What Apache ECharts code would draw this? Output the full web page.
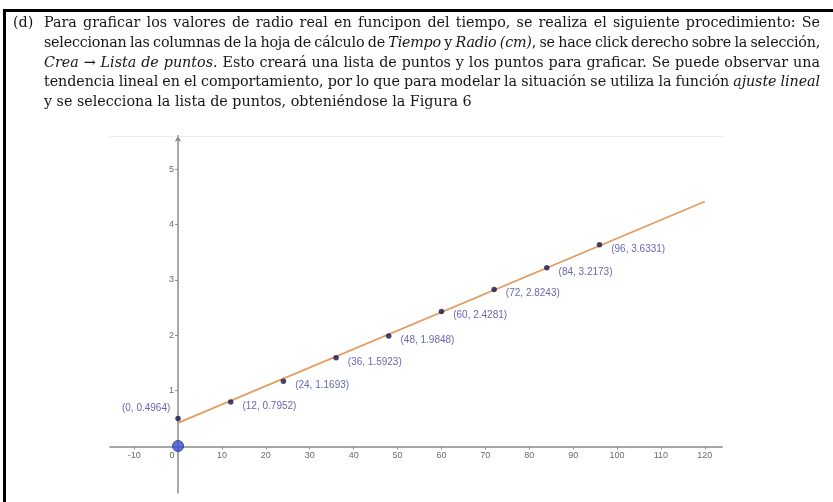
<!DOCTYPE html>
<html>
<head>
<meta charset="utf-8">
<script src="https://cdn.jsdelivr.net/npm/echarts@6/dist/echarts.min.js"></script>
<style>
  html, body { margin:0; padding:0; background:#fff; }
  #wrap { position:relative; width:833px; height:502px; overflow:hidden; }
  #chart { position:absolute; left:0; top:0; width:833px; height:502px; }
  #frame { position:absolute; left:3px; top:9px; width:830px; height:493px;
           border-top:3px solid #000; border-left:3px solid #000; box-sizing:border-box; pointer-events:none; }
  #para { position:absolute; left:13px; top:13px; width:807px; font-family:"DejaVu Serif",serif;
          font-size:14.3px; line-height:19.8px; color:#161616; }
  #para .tag { position:absolute; left:0; top:0; }
  #para .ln { margin-left:31px; white-space:nowrap; }
  #para i { font-style:italic; }
</style>
</head>
<body>
<div id="wrap">
  <div id="chart"></div>
  <div id="frame"></div>
  <div id="para">
    <span class="tag">(d)</span>
    <div class="ln j"><span class="t">Para graficar los valores de radio real en funcipon del tiempo, se realiza el siguiente procedimiento: Se</span></div>
    <div class="ln j"><span class="t">seleccionan las columnas de la hoja de cálculo de <i>Tiempo</i> y <i>Radio (cm)</i>, se hace click derecho sobre la selección,</span></div>
    <div class="ln j"><span class="t"><i>Crea</i> → <i>Lista de puntos</i>. Esto creará una lista de puntos y los puntos para graficar. Se puede observar una</span></div>
    <div class="ln j"><span class="t">tendencia lineal en el comportamiento, por lo que para modelar la situación se utiliza la función <i>ajuste lineal</i></span></div>
    <div class="ln"><span class="t">y se selecciona la lista de puntos, obteniéndose la Figura 6</span></div>
  </div>
</div>
<script>
// justify each paragraph line to the full measure
document.querySelectorAll('#para .ln.j .t').forEach(function (s) {
  var target = 776;
  var w = s.getBoundingClientRect().width;
  var txt = s.textContent;
  var n = (txt.match(/ /g) || []).length;
  var d = target - w;
  if (d < 0) {
    var ls = d * 0.6 / txt.length;
    s.style.letterSpacing = ls + 'px';
    w = s.getBoundingClientRect().width;
    d = target - w;
  }
  if (n > 0) s.style.wordSpacing = (d / n) + 'px';
});

// ---- data ----
const tiempo = [0, 12, 24, 36, 48, 60, 72, 84, 96];
const radio  = [0.4964, 0.7952, 1.1693, 1.5923, 1.9848, 2.4281, 2.8243, 3.2173, 3.6331];
const fitX = [0, 120];
const fitY = [0.4184, 4.4144];
const fitLabel = 'f(x)=0,0333x+0,4184';
const origin = [0, 0];
const xTicks = [-10, 0, 10, 20, 30, 40, 50, 60, 70, 80, 90, 100, 110, 120];
const yTicks = [1, 2, 3, 4, 5];

// ---- chart ----
const chart = echarts.init(document.getElementById('chart'), null, {renderer:'canvas'});
const axisColor = '#8c8c8c';
const labelFont = 'Liberation Sans, Arial, sans-serif';
const pointData = tiempo.map((t, i) => {
  const item = { value: [t, radio[i]] };
  if (i === 0) item.label = { position: 'left', offset: [0, -10] };
  return item;
});
const lineData = fitX.map((x, i) => {
  const item = { value: [x, fitY[i]] };
  if (i === 0) item.label = { show: true, position: 'right', offset: [3, 6], formatter: fitLabel,
                              color: '#d0803c', fontSize: 10, fontFamily: labelFont };
  return item;
});

const option = {
  animation: false,
  backgroundColor: '#ffffff',
  grid: { left: 110, right: 110.6, top: 135.8, bottom: 8.9 },
  xAxis: [{
    type: 'value', min: -15.5, max: 124, position: 'bottom',
    axisLine: { onZero: false, lineStyle: { color: axisColor, width: 1.5 } },
    axisTick: { show: true, customValues: xTicks, length: 3, lineStyle: { color: axisColor } },
    axisLabel: {
      customValues: xTicks, fontSize: 9, color: '#6a6a6a', margin: 4, fontFamily: labelFont,
      formatter: v => v === 0 ? '{z|0}' : String(v),
      rich: { z: { fontSize: 9, color: '#6a6a6a', fontFamily: labelFont, padding: [0, 12, 0, 0] } }
    },
    splitLine: { show: false }
  }, {
    type: 'value', min: -15.5, max: 124, position: 'top',
    axisLine: { onZero: false, lineStyle: { color: '#ececec', width: 1 } },
    axisTick: { show: false }, axisLabel: { show: false }, splitLine: { show: false }
  }],
  yAxis: {
    type: 'value', min: -0.85, max: 5.6, position: 'left',
    axisLine: { onZero: false, symbol: ['none', 'arrow'], symbolSize: [5, 6], lineStyle: { color: axisColor, width: 1.5 } },
    axisTick: { show: true, customValues: yTicks, length: 3, lineStyle: { color: axisColor } },
    axisLabel: { customValues: yTicks, fontSize: 9, color: '#6a6a6a', margin: 4, fontFamily: labelFont },
    splitLine: { show: false }
  },
  series: [{
    type: 'line', data: lineData, showSymbol: true, symbol: 'none',
    lineStyle: { color: '#e39d62', width: 1.8 }, z: 2
  }, {
    type: 'scatter', data: pointData, symbolSize: 5.5,
    itemStyle: { color: '#15154a' },
    label: { show: true, position: 'right', offset: [4, 4], fontSize: 10, color: '#4040a0',
             fontFamily: labelFont,
             formatter: p => '(' + p.value[0] + ', ' + p.value[1] + ')' },
    z: 3
  }, {
    type: 'scatter', data: [origin], symbolSize: 11,
    itemStyle: { color: '#3a4fd0', borderColor: '#24309a', borderWidth: 1 }, z: 4
  }]
};
chart.setOption(option);

// move the axes so they cross at the origin (GeoGebra style)
const o = chart.convertToPixel({ gridIndex: 0 }, origin);
const gr = chart.getModel().getComponent('grid', 0).coordinateSystem.getRect();
chart.setOption({
  xAxis: [{ offset: o[1] - (gr.y + gr.height) }, {}],
  yAxis: { offset: gr.x - o[0] }
});
</script>
</body>
</html>
